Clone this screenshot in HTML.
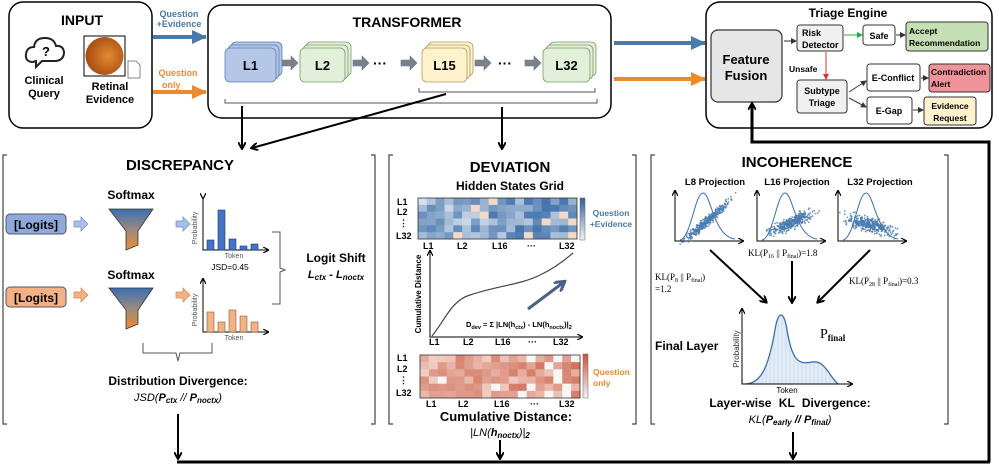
<!DOCTYPE html>
<html><head><meta charset="utf-8">
<style>
html,body{margin:0;padding:0;background:#fff;}
svg{display:block;font-family:"Liberation Sans",Arial,sans-serif;}
.b{font-weight:bold;}
</style></head>
<body>
<svg id="s" width="996" height="464" viewBox="0 0 996 464" xmlns="http://www.w3.org/2000/svg">
<defs>
<marker id="ak" markerWidth="8" markerHeight="8" refX="6" refY="4" orient="auto" markerUnits="userSpaceOnUse"><path d="M0,0 L7,4 L0,8" fill="none" stroke="#000" stroke-width="2"/></marker>
<marker id="as" markerWidth="6" markerHeight="6" refX="5" refY="3" orient="auto" markerUnits="userSpaceOnUse"><path d="M0,0 L6,3 L0,6z" fill="#333"/></marker>
<marker id="ar" markerWidth="6" markerHeight="6" refX="5" refY="3" orient="auto" markerUnits="userSpaceOnUse"><path d="M0,0 L6,3 L0,6z" fill="#e03030"/></marker>
<marker id="ag" markerWidth="6" markerHeight="6" refX="5" refY="3" orient="auto" markerUnits="userSpaceOnUse"><path d="M0,0 L6,3 L0,6z" fill="#20b040"/></marker>
<marker id="ab" markerWidth="16" markerHeight="14" refX="14" refY="7" orient="auto" markerUnits="userSpaceOnUse"><path d="M0,0 L15,7 L0,14z" fill="#4a7aa8"/></marker>
<marker id="ao" markerWidth="16" markerHeight="14" refX="14" refY="7" orient="auto" markerUnits="userSpaceOnUse"><path d="M0,0 L15,7 L0,14z" fill="#ec8a2c"/></marker>
<marker id="ax" markerWidth="6" markerHeight="6" refX="5" refY="3" orient="auto" markerUnits="userSpaceOnUse"><path d="M0,0 L6,3 L0,6" fill="none" stroke="#000" stroke-width="1.2"/></marker>
<marker id="ad" markerWidth="12" markerHeight="12" refX="9" refY="6" orient="auto" markerUnits="userSpaceOnUse"><path d="M0,0 L10,6 L0,12" fill="none" stroke="#4a6285" stroke-width="3"/></marker>
<linearGradient id="fun" x1="0" y1="0" x2="0" y2="1"><stop offset="0" stop-color="#3a6fb0"/><stop offset="0.5" stop-color="#9a8a80"/><stop offset="1" stop-color="#f08a30"/></linearGradient>
<linearGradient id="cbb" x1="0" y1="0" x2="0" y2="1"><stop offset="0" stop-color="#2c5f9e"/><stop offset="1" stop-color="#f4f4f4"/></linearGradient>
<linearGradient id="cbo" x1="0" y1="0" x2="0" y2="1"><stop offset="0" stop-color="#c8553a"/><stop offset="1" stop-color="#f4f4f4"/></linearGradient>
<radialGradient id="ret" cx="0.6" cy="0.5" r="0.6"><stop offset="0" stop-color="#e08a30"/><stop offset="1" stop-color="#a64a10"/></radialGradient>
</defs>

<rect x="9" y="2" width="143" height="126" rx="14" fill="#fff" stroke="#000" stroke-width="1.5"/>
<text x="82" y="25" font-size="14" class="b" text-anchor="middle">INPUT</text>
<path d="M33,62 q-8,0 -7,-8 q1,-7 8,-7 q1,-9 11,-9 q9,0 11,8 q7,-1 8,6 q0,8 -8,9 h-14 l-6,6 v-6z" fill="none" stroke="#222" stroke-width="2"/>
<text x="46" y="56" font-size="13" class="b" text-anchor="middle">?</text>
<text x="44" y="84" font-size="11" class="b" text-anchor="middle">Clinical</text>
<text x="44" y="97" font-size="11" class="b" text-anchor="middle">Query</text>
<rect x="84" y="36" width="41" height="40" fill="#fff" stroke="#000" stroke-width="1"/>
<circle cx="104.5" cy="56" r="19" fill="url(#ret)"/>
<path d="M128,61 h8 l4,4 v13 h-12z" fill="#fff" stroke="#666" stroke-width="0.8"/>
<text x="110" y="90" font-size="11" class="b" text-anchor="middle">Retinal</text>
<text x="110" y="103" font-size="11" class="b" text-anchor="middle">Evidence</text>

<text x="179" y="17" font-size="9" class="b" fill="#4a7aa8" text-anchor="middle">Question</text>
<text x="179" y="27" font-size="9" class="b" fill="#4a7aa8" text-anchor="middle">+Evidence</text>
<line x1="153" y1="37" x2="206" y2="37" stroke="#4a7aa8" stroke-width="4" marker-end="url(#ab)"/>
<text x="178" y="76" font-size="9" class="b" fill="#ec8a2c" text-anchor="middle">Question</text>
<text x="162" y="88" font-size="9" class="b" fill="#ec8a2c">only</text>
<line x1="153" y1="92" x2="206" y2="92" stroke="#ec8a2c" stroke-width="4" marker-end="url(#ao)"/>

<rect x="208" y="5" width="403" height="113" rx="14" fill="#fff" stroke="#000" stroke-width="1.5"/>
<text x="407" y="27" font-size="14" class="b" text-anchor="middle">TRANSFORMER</text>
<g id="layers"></g>
<path d="M225,99 v4 h372 v-4" fill="none" stroke="#555" stroke-width="1"/>
<path d="M419,88 v4 h176 v-4" fill="none" stroke="#555" stroke-width="1"/>

<line x1="242" y1="106" x2="242" y2="148" stroke="#000" stroke-width="2" marker-end="url(#ak)"/>
<line x1="446" y1="94" x2="252" y2="148" stroke="#000" stroke-width="2" marker-end="url(#ak)"/>
<line x1="502" y1="107" x2="502" y2="148" stroke="#000" stroke-width="2" marker-end="url(#ak)"/>

<line x1="614" y1="43" x2="705" y2="43" stroke="#4a7aa8" stroke-width="4" marker-end="url(#ab)"/>
<line x1="614" y1="79" x2="705" y2="79" stroke="#ec8a2c" stroke-width="4" marker-end="url(#ao)"/>

<rect x="706" y="2" width="286" height="126" rx="14" fill="#fff" stroke="#000" stroke-width="1.5"/>
<text x="848" y="17" font-size="12" class="b" text-anchor="middle">Triage Engine</text>
<rect x="711" y="30" width="71" height="72" rx="7" fill="#e6e6e6" stroke="#333" stroke-width="1.2"/>
<text x="746" y="64" font-size="13" class="b" text-anchor="middle">Feature</text>
<text x="746" y="80" font-size="13" class="b" text-anchor="middle">Fusion</text>
<rect x="797" y="25" width="46" height="26" rx="3" fill="#f0f0f0" stroke="#333"/>
<text x="802" y="36" font-size="9" class="b">Risk</text>
<text x="802" y="48" font-size="9" class="b">Detector</text>
<line x1="784" y1="41" x2="796" y2="41" stroke="#333" stroke-width="1" marker-end="url(#as)"/>
<line x1="844" y1="35" x2="862" y2="35" stroke="#20b040" stroke-width="1" marker-end="url(#ag)"/>
<rect x="863" y="25" width="32" height="20" rx="3" fill="#fff" stroke="#333"/>
<text x="879" y="39" font-size="9" class="b" text-anchor="middle">Safe</text>
<line x1="896" y1="35" x2="905" y2="35" stroke="#333" stroke-width="1" marker-end="url(#as)"/>
<rect x="906" y="22" width="82" height="29" rx="3" fill="#c5e0b4" stroke="#333"/>
<text x="909" y="34" font-size="8.5" class="b">Accept</text>
<text x="909" y="46" font-size="8.5" class="b">Recommendation</text>
<text x="789" y="72" font-size="8.5" class="b">Unsafe</text>
<line x1="826" y1="52" x2="826" y2="79" stroke="#e03030" stroke-width="1" marker-end="url(#ar)"/>
<rect x="797" y="80" width="50" height="33" rx="3" fill="#f0f0f0" stroke="#333"/>
<text x="822" y="94" font-size="9" class="b" text-anchor="middle">Subtype</text>
<text x="822" y="106" font-size="9" class="b" text-anchor="middle">Triage</text>
<line x1="849" y1="92" x2="866" y2="81" stroke="#333" stroke-width="1" marker-end="url(#as)"/>
<line x1="849" y1="98" x2="866" y2="107" stroke="#333" stroke-width="1" marker-end="url(#as)"/>
<rect x="867" y="64" width="53" height="27" rx="3" fill="#fff" stroke="#333"/>
<text x="893" y="81" font-size="9" class="b" text-anchor="middle">E-Conflict</text>
<line x1="921" y1="78" x2="928" y2="78" stroke="#333" stroke-width="1" marker-end="url(#as)"/>
<rect x="929" y="64" width="61" height="28" rx="3" fill="#f0939a" stroke="#333"/>
<text x="931" y="75" font-size="8.5" class="b">Contradiction</text>
<text x="931" y="87" font-size="8.5" class="b">Alert</text>
<rect x="867" y="97" width="45" height="27" rx="3" fill="#fff" stroke="#333"/>
<text x="889" y="114" font-size="9" class="b" text-anchor="middle">E-Gap</text>
<line x1="913" y1="110" x2="923" y2="110" stroke="#333" stroke-width="1" marker-end="url(#as)"/>
<rect x="924" y="97" width="52" height="28" rx="3" fill="#fff2cc" stroke="#333"/>
<text x="950" y="109" font-size="8.5" class="b" text-anchor="middle">Evidence</text>
<text x="950" y="121" font-size="8.5" class="b" text-anchor="middle">Request</text>

<polyline points="989,462 989,142 752,142 752,104" fill="none" stroke="#000" stroke-width="3" marker-end="url(#ak)"/>
<line x1="177" y1="462" x2="990" y2="462" stroke="#000" stroke-width="3"/>
<line x1="178" y1="414" x2="178" y2="458" stroke="#000" stroke-width="2" marker-end="url(#ak)"/>
<line x1="500" y1="440" x2="500" y2="458" stroke="#000" stroke-width="2" marker-end="url(#ak)"/>
<line x1="793" y1="432" x2="793" y2="458" stroke="#000" stroke-width="2" marker-end="url(#ak)"/>

<g fill="none" stroke="#444" stroke-width="1.2">
<path d="M7,155 h-4 v269 h4"/><path d="M371,155 h4 v269 h-4"/>
<path d="M393,155 h-4 v269 h4"/><path d="M632,155 h4 v269 h-4"/>
<path d="M655,155 h-4 v269 h4"/><path d="M944,155 h4 v269 h-4"/>
</g>

<text x="180" y="170" font-size="15" class="b" text-anchor="middle">DISCREPANCY</text>
<text x="131" y="199" font-size="12" class="b" text-anchor="middle">Softmax</text>
<text x="131" y="279" font-size="12" class="b" text-anchor="middle">Softmax</text>
<path d="M109,209 h44 l-15,22 v14 l-12,5 v-19z" fill="url(#fun)" stroke="#333" stroke-width="0.8"/>
<path d="M109,288 h44 l-15,22 v14 l-12,5 v-19z" fill="url(#fun)" stroke="#333" stroke-width="0.8"/>
<rect x="6" y="214" width="60" height="20" rx="4" fill="#8eaadc" stroke="#556" stroke-width="1"/>
<text x="36" y="229" font-size="12" class="b" text-anchor="middle">[Logits]</text>
<rect x="6" y="287" width="60" height="20" rx="4" fill="#f4b183" stroke="#556" stroke-width="1"/>
<text x="36" y="302" font-size="12" class="b" text-anchor="middle">[Logits]</text>
<g fill="#a9c0e8" stroke="#6a8cc8" stroke-width="0.7">
<path d="M74,221 h7 v-4 l7,7 l-7,7 v-4 h-7z"/><path d="M176,221 h7 v-4 l7,7 l-7,7 v-4 h-7z"/>
</g>
<g fill="#f4b183" stroke="#c88a5a" stroke-width="0.7">
<path d="M74,292 h7 v-4 l7,7 l-7,7 v-4 h-7z"/><path d="M176,292 h7 v-4 l7,7 l-7,7 v-4 h-7z"/>
</g>
<g stroke="#000" stroke-width="1" fill="none">
<polyline points="203,198 203,250 268,250" marker-start="url(#ax)" marker-end="url(#ax)"/>
<polyline points="203,280 203,332 268,332" marker-end="url(#ax)"/>
<line x1="203" y1="282" x2="203" y2="279" marker-end="url(#ax)"/>
</g>
<g fill="#4472c4" stroke="#1f3a70" stroke-width="0.6">
<rect x="207" y="240" width="7" height="10"/><rect x="218" y="210" width="7" height="40"/><rect x="229" y="239" width="7" height="11"/><rect x="240" y="246" width="7" height="4"/><rect x="251" y="244" width="7" height="6"/>
</g>
<g fill="#f4b183" stroke="#8a5a30" stroke-width="0.6">
<rect x="207" y="312" width="7" height="20"/><rect x="218" y="322" width="7" height="10"/><rect x="229" y="310" width="7" height="22"/><rect x="240" y="316" width="7" height="16"/><rect x="251" y="322" width="7" height="10"/>
</g>
<text x="197" y="228" font-size="7" fill="#555" transform="rotate(-90 197 228)" text-anchor="middle">Probability</text>
<text x="197" y="310" font-size="7" fill="#555" transform="rotate(-90 197 310)" text-anchor="middle">Probability</text>
<text x="234" y="258" font-size="7" fill="#555" text-anchor="middle">Token</text>
<text x="234" y="340" font-size="7" fill="#555" text-anchor="middle">Token</text>
<text x="230" y="270" font-size="8.5" text-anchor="middle">JSD=0.45</text>
<path d="M272,232 h8 v36 l5,2 l-5,2 v32 h-8" fill="none" stroke="#555" stroke-width="1"/>
<text x="336" y="262" font-size="12" class="b" text-anchor="middle">Logit Shift</text>
<text x="336" y="278" font-size="11" class="b" font-style="italic" text-anchor="middle">L<tspan font-size="8" dy="2">ctx</tspan><tspan dy="-2"> - L</tspan><tspan font-size="8" dy="2">noctx</tspan></text>
<path d="M143,343 v10 h33 l2,8 l2,-8 h32 v-10" fill="none" stroke="#555" stroke-width="1"/>
<text x="178" y="385" font-size="12" class="b" text-anchor="middle">Distribution Divergence:</text>
<text x="178" y="401" font-size="11" font-style="italic" text-anchor="middle">JSD(<tspan font-weight="bold">P<tspan font-size="8" dy="2">ctx</tspan></tspan><tspan dy="-2"> // </tspan><tspan font-weight="bold">P<tspan font-size="8" dy="2">noctx</tspan></tspan><tspan dy="-2">)</tspan></text>

<text x="510" y="172" font-size="15" class="b" text-anchor="middle">DEVIATION</text>
<text x="510" y="190" font-size="12" class="b" text-anchor="middle">Hidden States Grid</text>
<g id="hb"></g><g id="ho"></g>
<rect x="418" y="198" width="159" height="41" fill="none" stroke="#333" stroke-width="0.8"/>
<rect x="420" y="355" width="160" height="43" fill="none" stroke="#333" stroke-width="0.8"/>
<rect x="580" y="198" width="5" height="42" fill="url(#cbb)" stroke="#666" stroke-width="0.5"/>
<rect x="583" y="354" width="5" height="44" fill="url(#cbo)" stroke="#666" stroke-width="0.5"/>
<text x="611" y="216" font-size="8.5" class="b" fill="#4a7aa8" text-anchor="middle">Question</text>
<text x="611" y="227" font-size="8.5" class="b" fill="#4a7aa8" text-anchor="middle">+Evidence</text>
<text x="593" y="375" font-size="8.5" class="b" fill="#ec8a2c">Question</text>
<text x="593" y="386" font-size="8.5" class="b" fill="#ec8a2c">only</text>
<g font-size="9" class="b" font-weight="bold">
<text x="397" y="205">L1</text><text x="397" y="215">L2</text><text x="399" y="226">⋮</text><text x="396" y="239">L32</text>
<text x="397" y="361">L1</text><text x="397" y="372">L2</text><text x="399" y="383">⋮</text><text x="396" y="396">L32</text>
<text x="423" y="249">L1</text><text x="457" y="249">L2</text><text x="492" y="249">L16</text><text x="527" y="249">···</text><text x="559" y="249">L32</text>
<text x="429" y="345">L1</text><text x="463" y="345">L2</text><text x="495" y="345">L16</text><text x="528" y="345">···</text><text x="553" y="345">L32</text>
<text x="426" y="407">L1</text><text x="458" y="407">L2</text><text x="494" y="407">L16</text><text x="530" y="407">···</text><text x="559" y="407">L32</text>
</g>
<polyline points="430,252 430,337 582,337" fill="none" stroke="#000" stroke-width="1" marker-end="url(#ax)"/>
<line x1="430" y1="254" x2="430" y2="251" stroke="#000" marker-end="url(#ax)"/>
<text x="421" y="294" font-size="8" class="b" transform="rotate(-90 421 294)" text-anchor="middle">Cumulative Distance</text>
<path d="M432,336 C445,320 452,300 470,295 C500,285 520,285 540,275 C555,268 565,260 573,253" fill="none" stroke="#444" stroke-width="1.2"/>
<line x1="528" y1="309" x2="564" y2="282" stroke="#4a6285" stroke-width="3" marker-end="url(#ad)"/>
<text x="466" y="327" font-size="7.5" class="b">D<tspan font-size="5.5" dy="2">dev</tspan><tspan dy="-2"> = Σ |LN(h</tspan><tspan font-size="5.5" dy="2">ctx</tspan><tspan dy="-2">) - LN(h</tspan><tspan font-size="5.5" dy="2">noctx</tspan><tspan dy="-2">)|</tspan><tspan font-size="5.5" dy="2">2</tspan></text>
<text x="506" y="421" font-size="13" class="b" text-anchor="middle">Cumulative Distance:</text>
<text x="500" y="436" font-size="11" font-style="italic" text-anchor="middle">|LN(<tspan font-weight="bold">h<tspan font-size="8" dy="2">noctx</tspan></tspan><tspan dy="-2">)|</tspan><tspan font-size="8" dy="2" font-weight="bold">2</tspan></text>

<text x="797" y="167" font-size="15" class="b" text-anchor="middle">INCOHERENCE</text>
<text x="715" y="185" font-size="9.5" class="b" text-anchor="middle">L8 Projection</text>
<text x="797" y="185" font-size="9.5" class="b" text-anchor="middle">L16 Projection</text>
<text x="880" y="185" font-size="9.5" class="b" text-anchor="middle">L32 Projection</text>
<g id="scat"></g>
<g font-family="Liberation Serif,serif" font-size="9">
<text x="655" y="280">KL(P<tspan font-size="6" dy="2">8</tspan><tspan dy="-2"> || P</tspan><tspan font-size="6" dy="2">final</tspan><tspan dy="-2">)</tspan></text>
<text x="655" y="292">=1.2</text>
<text x="748" y="256">KL(P<tspan font-size="6" dy="2">16</tspan><tspan dy="-2"> || P</tspan><tspan font-size="6" dy="2">final</tspan><tspan dy="-2">)=1.8</tspan></text>
<text x="849" y="284">KL(P<tspan font-size="6" dy="2">28</tspan><tspan dy="-2"> || P</tspan><tspan font-size="6" dy="2">final</tspan><tspan dy="-2">)=0.3</tspan></text>
</g>
<line x1="710" y1="250" x2="766" y2="302" stroke="#000" stroke-width="2" marker-end="url(#ak)"/>
<line x1="792" y1="261" x2="792" y2="302" stroke="#000" stroke-width="2" marker-end="url(#ak)"/>
<line x1="870" y1="250" x2="818" y2="302" stroke="#000" stroke-width="2" marker-end="url(#ak)"/>
<path d="M745,384 C760,384 768,370 775,330 C778,310 784,310 787,330 C792,360 798,365 812,362 C825,360 828,375 838,384z" fill="#d7e4f2"/>
<g stroke="#fff" stroke-width="0.6" id="stripes"></g>
<path d="M745,384 C760,384 768,370 775,330 C778,310 784,310 787,330 C792,360 798,365 812,362 C825,360 828,375 838,384" fill="none" stroke="#3a6fb0" stroke-width="1.3"/>
<polyline points="742,310 742,384 852,384" fill="none" stroke="#000" stroke-width="1" marker-end="url(#ax)"/>
<line x1="742" y1="312" x2="742" y2="309" stroke="#000" marker-end="url(#ax)"/>
<text x="739" y="349" font-size="8" fill="#333" transform="rotate(-90 739 349)" text-anchor="middle">Probability</text>
<text x="787" y="393" font-size="8" text-anchor="middle">Token</text>
<text x="820" y="338" font-size="14" font-family="Liberation Serif,serif">P<tspan font-size="9" font-weight="bold" dy="3">final</tspan></text>
<text x="655" y="350" font-size="12" class="b">Final Layer</text>
<text x="790" y="407" font-size="12" class="b" text-anchor="middle" word-spacing="4">Layer-wise KL Divergence:</text>
<text x="790" y="423" font-size="11" font-style="italic" text-anchor="middle">KL(<tspan font-weight="bold">P<tspan font-size="8" dy="2">early</tspan></tspan><tspan dy="-2" font-weight="bold"> // P</tspan><tspan font-size="8" dy="2" font-weight="bold">final</tspan><tspan dy="-2">)</tspan></text>
</svg>
<script>
(function(){
var NS="http://www.w3.org/2000/svg";
function el(p,t,a){var e=document.createElementNS(NS,t);for(var k in a)e.setAttribute(k,a[k]);p.appendChild(e);return e;}
var seed=7;function r(){seed=(seed*16807)%2147483647;return seed/2147483647;}
var L=document.getElementById("layers");
var defs=[[225,"L1","#b4c7e7","#5b7fb5",51],[300,"L2","#e2f0d9","#7a9a6a",45],[422,"L15","#fff2cc","#b09a60",45],[543,"L32","#e2f0d9","#7a9a6a",47]];
defs.forEach(function(d){
 for(var i=2;i>=0;i--){el(L,"rect",{x:d[0]+i*3,y:48-i*3,width:d[4],height:34,rx:5,fill:d[2],stroke:d[3],"stroke-width":0.8});}
 var t=el(L,"text",{x:d[0]+d[4]/2,y:70,"font-size":13,"font-weight":"bold","text-anchor":"middle"});t.textContent=d[1];
});
[[282,63],[353,63],[401,63],[475,63],[525,63]].forEach(function(p){
 el(L,"path",{d:"M"+p[0]+","+(p[1]-3)+" h9 v-4 l7,7 l-7,7 v-4 h-9z",fill:"#808080",stroke:"#5a7ab0","stroke-width":0.6});
});
[[375,"···"],[500,"···"]].forEach(function(p){var t=el(L,"text",{x:p[0]+5,y:68,"font-size":14,"font-weight":"bold","text-anchor":"middle"});t.textContent=p[1];});
function heat(g,x0,y0,w,h,nc,nr,pal){
 var G=document.getElementById(g),cw=w/nc,ch=h/nr;
 for(var i=0;i<nr;i++)for(var j=0;j<nc;j++){
  var v=r()*0.6+(j/nc)*0.25+0.1;if(r()<0.08)v=0.05;
  el(G,"rect",{x:x0+j*cw,y:y0+i*ch,width:cw+0.3,height:ch+0.3,fill:pal(v)});
 }
}
function mix(a,b,t){return "rgb("+[0,1,2].map(function(k){return Math.round(a[k]+(b[k]-a[k])*t);}).join(",")+")";}
heat("hb",418,198,159,41,18,6,function(v){if(v<0.08)return "#f3d9c8";return mix([235,240,246],[40,95,160],Math.min(1,v));});
heat("ho",420,355,160,43,18,6,function(v){if(v<0.08)return "#f6f6f6";return mix([250,235,228],[200,85,60],Math.min(1,v*0.9));});
var S=document.getElementById("scat");
[[675,0.0,1],[757,0.15,2],[838,0.35,3]].forEach(function(p,idx){
 var x0=p[0],y0=241,w=65;
 el(S,"polyline",{points:x0+",192 "+x0+","+y0+" "+(x0+w+3)+","+y0,fill:"none",stroke:"#000","stroke-width":1,"marker-end":"url(#ax)"});
 el(S,"line",{x1:x0,y1:194,x2:x0,y2:191,stroke:"#000","marker-end":"url(#ax)"});
 var cx=x0+28;
 el(S,"path",{d:"M"+(x0+5)+","+(y0-1)+" C"+(cx-12)+","+(y0-3)+" "+(cx-8)+","+(y0-48)+" "+cx+","+(y0-48)+" C"+(cx+8)+","+(y0-48)+" "+(cx+10)+","+(y0-5)+" "+(x0+60)+","+(y0-2),fill:"none",stroke:"#3a6fb0","stroke-width":1});
 for(var k=0;k<380;k++){
  var a=(r()+r()+r()-1.5)*1.3,b=(r()+r()+r()-1.5)*0.5;
  var px,py;
  if(idx==0){px=cx+4+a*16;py=y0-20-a*14+b*10;}
  else if(idx==1){px=cx+6+a*16;py=y0-18-a*7+b*12;}
  else{px=cx+4+a*18;py=y0-16+a*5+b*14;}
  el(S,"circle",{cx:px,cy:py,r:0.9,fill:"#4a7ab0","fill-opacity":0.8});
 }
});
var st=document.getElementById("stripes");
for(var x=748;x<838;x+=4)el(st,"line",{x1:x,y1:315,x2:x,y2:384});
})();
</script>
</body></html>
